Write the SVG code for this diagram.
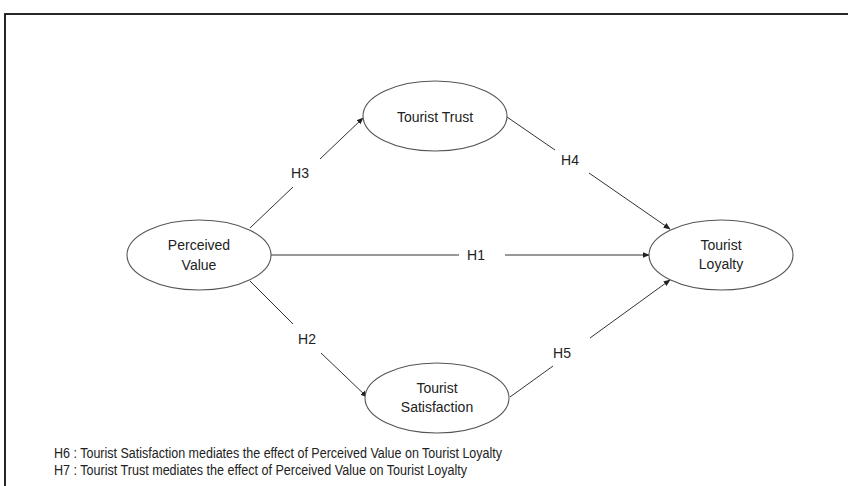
<svg xmlns="http://www.w3.org/2000/svg" width="848" height="486" viewBox="0 0 848 486">
<defs>
<marker id="arr" viewBox="0 0 10 10" refX="9" refY="5" markerWidth="7" markerHeight="7" orient="auto" markerUnits="userSpaceOnUse">
<path d="M0,1 L10,5 L0,9 z" fill="#222"/>
</marker>
</defs>
<style>
.node ellipse{fill:#fff;stroke:#555;stroke-width:1.1}
.lbl{font-family:"Liberation Sans",Arial,sans-serif;font-size:14px;fill:#222;text-anchor:middle}
.h{font-family:"Liberation Sans",Arial,sans-serif;font-size:14px;fill:#222;text-anchor:middle}
.conn line{stroke:#333;stroke-width:1}
.note{font-family:"Liberation Sans",Arial,sans-serif;font-size:14px;fill:#222}
</style>
<rect x="0" y="0" width="848" height="486" fill="#fff"/>
<rect x="5" y="14" width="900" height="500" fill="none" stroke="#111" stroke-width="1.8"/>
<g id="connectors" class="conn">
<line x1="250" y1="228" x2="293" y2="187"/>
<line x1="320" y1="159" x2="363" y2="118" marker-end="url(#arr)"/>
<line x1="507" y1="117" x2="555" y2="150"/>
<line x1="589" y1="173" x2="670" y2="229" marker-end="url(#arr)"/>
<line x1="271" y1="255" x2="459" y2="255"/>
<line x1="505" y1="255" x2="649" y2="255" marker-end="url(#arr)"/>
<line x1="250" y1="281" x2="293" y2="324"/>
<line x1="321" y1="353" x2="367" y2="397" marker-end="url(#arr)"/>
<line x1="510" y1="397" x2="553" y2="366"/>
<line x1="590" y1="338" x2="670" y2="280" marker-end="url(#arr)"/>
<text class="h" x="300" y="178">H3</text>
<text class="h" x="570" y="165">H4</text>
<text class="h" x="476" y="260">H1</text>
<text class="h" x="307" y="344">H2</text>
<text class="h" x="562" y="358">H5</text>
</g>
<g id="perceived-value" class="node">
<ellipse cx="199" cy="255" rx="72" ry="35"/>
<text class="lbl" x="199" y="250">Perceived</text>
<text class="lbl" x="199" y="270">Value</text>
</g>
<g id="tourist-trust" class="node">
<ellipse cx="435" cy="116" rx="72" ry="35"/>
<text class="lbl" x="435" y="122">Tourist Trust</text>
</g>
<g id="tourist-loyalty" class="node">
<ellipse cx="721" cy="255" rx="72" ry="35"/>
<text class="lbl" x="721" y="250">Tourist</text>
<text class="lbl" x="721" y="269">Loyalty</text>
</g>
<g id="tourist-satisfaction" class="node">
<ellipse cx="437" cy="398" rx="72" ry="35"/>
<text class="lbl" x="437" y="393">Tourist</text>
<text class="lbl" x="437" y="412">Satisfaction</text>
</g>
<text class="note" x="54" y="458" textLength="448" lengthAdjust="spacingAndGlyphs">H6 : Tourist Satisfaction mediates the effect of Perceived Value on Tourist Loyalty</text>
<text class="note" x="54" y="475" textLength="413" lengthAdjust="spacingAndGlyphs">H7 : Tourist Trust mediates the effect of Perceived Value on Tourist Loyalty</text>
</svg>
